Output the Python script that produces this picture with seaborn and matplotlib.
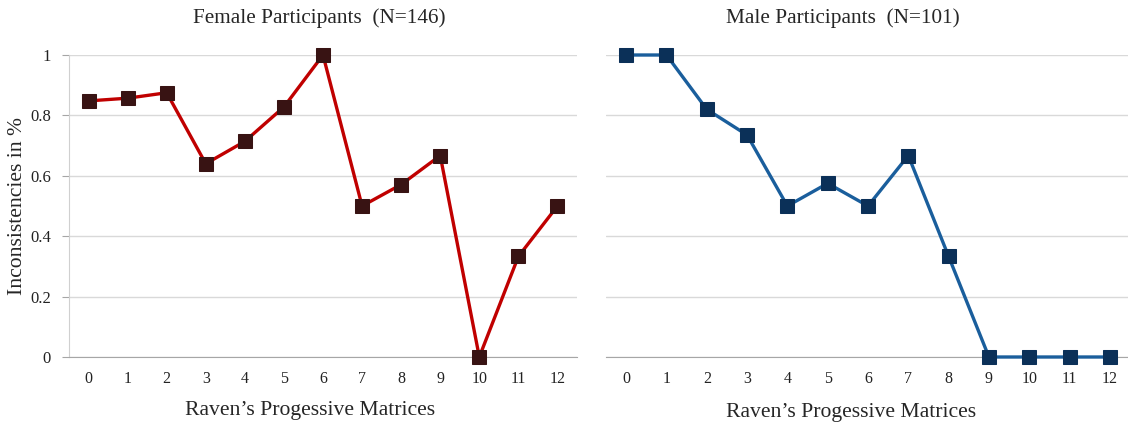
import numpy as np
import pandas as pd
import seaborn as sns
import matplotlib.pyplot as plt

# values
levels = list(range(13))
female = [0.848, 0.857, 0.875, 0.640, 0.714, 0.828, 1.0, 0.5, 0.571, 0.667, 0.0, 0.333, 0.5]
male = [1.0, 1.0, 0.82, 0.735, 0.5, 0.575, 0.5, 0.667, 0.333, 0.0, 0.0, 0.0, 0.0]
yticks = [0, 0.2, 0.4, 0.6, 0.8, 1]
ytick_labels = ["0", "0.2", "0.4", "0.6", "0.8", "1"]

sns.set_style("white")
plt.rcParams["font.family"] = ["Liberation Serif", "DejaVu Serif"]

fig = plt.figure(figsize=(11.28, 4.25), dpi=100)
ax1 = fig.add_axes([69 / 1128, 1 - 357 / 425, 508 / 1128, 302 / 425])
ax2 = fig.add_axes([606 / 1128, 1 - 357 / 425, 524 / 1128, 302 / 425])

panels = [
    (ax1, female, "#C00000", "#381313"),
    (ax2, male, "#1A5E9C", "#0B3058"),
]

for ax, vals, line_col, mark_col in panels:
    df = pd.DataFrame({"level": levels, "value": vals})
    sns.lineplot(data=df, x="level", y="value", ax=ax, color=line_col,
                 linewidth=2.4, marker="s", markersize=10,
                 markerfacecolor=mark_col, markeredgecolor=mark_col,
                 clip_on=False, zorder=5)
    ax.set_xlim(-0.5, 12.5)
    ax.set_ylim(0, 1)
    ax.set_yticks(yticks)
    ax.grid(axis="y", color="#D9D9D9", linewidth=1)
    ax.set_axisbelow(True)
    ax.set_xticks(levels)
    ax.set_xticklabels([str(v) for v in levels])
    ax.set_xticks(np.arange(-0.5, 13, 1), minor=True)
    ax.tick_params(axis="x", which="major", length=0, pad=10, labelsize=11.5, labelcolor="#222222")
    ax.tick_params(axis="x", which="minor", length=5, color="#A6A6A6", width=1, direction="out")
    for s in ["top", "right"]:
        ax.spines[s].set_visible(False)
    ax.spines["bottom"].set_color("#A6A6A6")
    ax.set_xlabel("")
    ax.set_ylabel("")

ax1.set_yticklabels(ytick_labels)
ax1.tick_params(axis="y", length=5, color="#A6A6A6", direction="out", pad=8,
                labelsize=12, labelcolor="#222222", left=True)
ax1.spines["left"].set_color("#D0D0D0")
ax2.spines["left"].set_visible(False)
ax2.set_yticklabels([])
ax2.tick_params(axis="y", length=0)

fig.text(319 / 1128, 1 - 18 / 425, "Female Participants  (N=146)", ha="center", va="center", fontsize=15.3)
fig.text(843 / 1128, 1 - 18 / 425, "Male Participants  (N=101)", ha="center", va="center", fontsize=15.3)
fig.text(310 / 1128, 1 - 410 / 425, "Raven\u2019s Progessive Matrices", ha="center", va="center", fontsize=15.6)
fig.text(851 / 1128, 1 - 413 / 425, "Raven\u2019s Progessive Matrices", ha="center", va="center", fontsize=15.6)
fig.text(18 / 1128, 1 - 206 / 425, "Inconsistencies in %", ha="center", va="center", rotation=90, fontsize=15.6)

fig.savefig("out.png", dpi=100)
